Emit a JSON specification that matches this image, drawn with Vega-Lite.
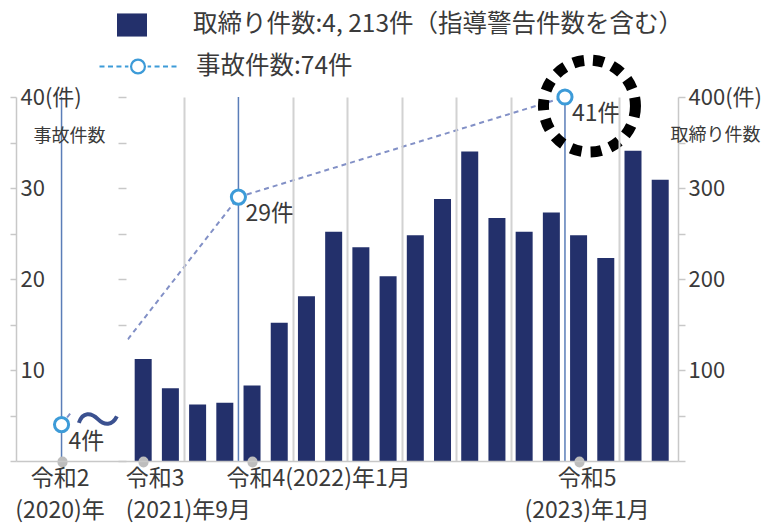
{
  "$schema": "https://vega.github.io/schema/vega-lite/v6.json",
  "width": 662,
  "height": 364,
  "autosize": {"type": "none"},
  "padding": {"left": 16, "top": 97, "right": 96, "bottom": 66},
  "config": {
    "font": "Noto Sans CJK JP",
    "view": {"stroke": null},
    "legend": {"labelFont": "Noto Sans CJK JP", "labelColor": "#3a3a3a", "padding": 0, "labelLimit": 0}
  },
  "datasets": {
    "enforcement": [
      {"month": "2021-09", "m": 0, "n": 112},
      {"month": "2021-10", "m": 1, "n": 80},
      {"month": "2021-11", "m": 2, "n": 62},
      {"month": "2021-12", "m": 3, "n": 64},
      {"month": "2022-01", "m": 4, "n": 83},
      {"month": "2022-02", "m": 5, "n": 152},
      {"month": "2022-03", "m": 6, "n": 181},
      {"month": "2022-04", "m": 7, "n": 252},
      {"month": "2022-05", "m": 8, "n": 235},
      {"month": "2022-06", "m": 9, "n": 203},
      {"month": "2022-07", "m": 10, "n": 248},
      {"month": "2022-08", "m": 11, "n": 288},
      {"month": "2022-09", "m": 12, "n": 340},
      {"month": "2022-10", "m": 13, "n": 267},
      {"month": "2022-11", "m": 14, "n": 252},
      {"month": "2022-12", "m": 15, "n": 273},
      {"month": "2023-01", "m": 16, "n": 248},
      {"month": "2023-02", "m": 17, "n": 223},
      {"month": "2023-03", "m": 18, "n": 341},
      {"month": "2023-04", "m": 19, "n": 309}
    ],
    "accidents": [
      {"period": "令和2(2020)年", "m": -3, "n": 4, "label": "4件"},
      {"period": "令和3(2021)年", "m": 3.5, "n": 29, "label": "29件"},
      {"period": "令和4(2022)年", "m": 15.5, "n": 41, "label": "41件"}
    ]
  },
  "layer": [
    {
      "data": {"name": "enforcement"},
      "mark": {"type": "bar", "width": 17},
      "encoding": {
        "x": {
          "field": "m", "type": "quantitative",
          "scale": {"domain": [-4.49, 19.47], "nice": false, "zero": false},
          "axis": {
            "title": null,
            "values": [-3, -0.5, 0, 0.5, 1.5, 2.5, 4, 4.5, 5.5, 6.5, 7.5, 8.5, 9.5, 10.5, 11.5, 12.5, 13.5, 14.5, 16, 16.5, 17.5, 18.5],
            "grid": true,
            "gridColor": {"condition": {"test": "datum.value % 1 == 0", "value": "transparent"}, "value": "#d2d2d2"},
            "gridWidth": 2,
            "domainColor": "#c8c8c8",
            "domainWidth": 1.5,
            "tickColor": {"condition": {"test": "datum.value % 1 == 0", "value": "#bdbdbd"}, "value": "transparent"},
            "tickWidth": 10,
            "tickSize": 1,
            "tickCap": "round",
            "labelExpr": "datum.value == -3 ? ['令和2', '(2020)年'] : datum.value == 0 ? ['令和3', '(2021)年9月'] : datum.value == 4 ? '令和4(2022)年1月' : datum.value == 16 ? ['令和5', '(2023)年1月'] : ''",
            "labelFontSize": 23,
            "labelColor": "#3a3a3a",
            "labelPadding": 5,
            "labelLineHeight": 32,
            "labelLimit": 0,
            "labelOverlap": false,
            "labelBound": false,
            "labelFlush": false,
            "labelAlign": {"condition": {"test": "datum.value == 0 || datum.value == 4", "value": "left"}, "value": "center"},
            "labelOffset": {"condition": [{"test": "datum.value == 0", "value": -18}, {"test": "datum.value == 4", "value": -26}, {"test": "datum.value == 16", "value": 8}], "value": -2},
            "zindex": 1
          }
        },
        "y": {
          "field": "n", "type": "quantitative",
          "scale": {"domain": [0, 400], "nice": false},
          "axis": {
            "orient": "right",
            "values": [0, 50, 100, 150, 200, 250, 300, 350, 400],
            "title": "取締り件数",
            "titleAngle": 0, "titleX": -8, "titleY": 38,
            "titleAlign": "left", "titleBaseline": "middle",
            "titleFontSize": 18, "titleFontWeight": "normal", "titleColor": "#3a3a3a",
            "labelExpr": "datum.value == 400 ? '400(件)' : (datum.value % 100 == 0 && datum.value > 0) ? datum.label : ''",
            "labelFontSize": 22, "labelColor": "#3a3a3a", "labelPadding": 3,
            "tickSize": 7, "tickColor": "#c8c8c8", "tickWidth": 1.5,
            "domainColor": "#c8c8c8", "domainWidth": 1.5,
            "grid": false, "labelOverlap": false, "labelBound": false, "labelFlush": false,
            "zindex": 1
          }
        },
        "fill": {
          "datum": "取締り件数:4, 213件（指導警告件数を含む）", "type": "nominal",
          "scale": {"range": ["#23306b"]},
          "legend": {
            "orient": "none", "legendX": 101, "legendY": -87, "title": null,
            "symbolType": "M-1,-0.77H1V0.77H-1Z", "symbolSize": 900, "symbolStrokeWidth": 0,
            "labelFontSize": 24.5, "labelOffset": 46, "labelLimit": 0
          }
        }
      }
    },
    {
      "data": {"name": "accidents"},
      "layer": [
        {
          "mark": {"type": "rule", "color": "#5a7db8", "strokeWidth": 1.5},
          "encoding": {"x": {"field": "m", "type": "quantitative"}}
        },
        {
          "mark": {"type": "line", "strokeDash": [5, 4], "strokeWidth": 2, "color": "#8290c6"},
          "encoding": {
            "x": {"field": "m", "type": "quantitative"},
            "y": {
              "field": "n", "type": "quantitative",
              "scale": {"domain": [0, 40], "nice": false, "clamp": true},
              "axis": {
                "orient": "left",
                "values": [0, 5, 10, 15, 20, 25, 30, 35, 40],
                "title": "事故件数",
                "titleAngle": 0, "titleX": 17, "titleY": 39,
                "titleAlign": "left", "titleBaseline": "middle",
                "titleFontSize": 18, "titleFontWeight": "normal", "titleColor": "#3a3a3a",
                "labelExpr": "datum.value == 40 ? '40(件)' : (datum.value % 10 == 0 && datum.value > 0) ? datum.label : ''",
                "labelAlign": "left", "labelPadding": -10,
                "labelFontSize": 22, "labelColor": "#3a3a3a",
                "tickSize": 6, "tickColor": "#c8c8c8", "tickWidth": 1.5,
                "domainColor": "#c8c8c8", "domainWidth": 1.5,
                "grid": false, "labelOverlap": false, "labelBound": false, "labelFlush": false,
                "zindex": 1
              }
            }
          }
        },
        {
          "mark": {"type": "point", "filled": true, "fill": "white", "strokeWidth": 3, "size": 200, "opacity": 1},
          "encoding": {
            "x": {"field": "m", "type": "quantitative"},
            "y": {"field": "n", "type": "quantitative"},
            "stroke": {
              "datum": "事故件数:74件", "type": "nominal",
              "scale": {"range": ["#3d9bd8"]},
              "legend": {
                "orient": "none", "legendX": 82, "legendY": -70.5, "title": null,
                "symbolType": "M-1,0H-0.87M-0.78,0H-0.65M-0.56,0H-0.43M-0.34,0H-0.25M0.18,0A0.18,0.18 0 1,1 -0.18,0A0.18,0.18 0 1,1 0.18,0M0.25,0H0.34M0.43,0H0.56M0.65,0H0.78M0.87,0H1",
                "symbolSize": 5929, "symbolStrokeWidth": 2.2,
                "symbolFillColor": "transparent",
                "labelFontSize": 24.5, "labelOffset": 18
              }
            }
          }
        },
        {
          "mark": {"type": "text", "align": "left", "baseline": "middle", "dx": 7, "dy": 17, "fontSize": 23, "color": "#3a3a3a"},
          "encoding": {
            "x": {"field": "m", "type": "quantitative"},
            "y": {"field": "n", "type": "quantitative"},
            "text": {"field": "label"}
          }
        },
        {
          "data": {"values": [{}]},
          "mark": {"type": "point", "shape": "circle", "filled": false, "stroke": "black", "strokeWidth": 11, "strokeDash": [11, 9], "size": 8464, "opacity": 1},
          "encoding": {
            "x": {"datum": 16.4, "type": "quantitative"},
            "y": {"datum": 39.0, "type": "quantitative"}
          }
        }
      ]
    },
    {
      "data": {"values": [{}]},
      "layer": [
        {
          "mark": {"type": "rect", "color": "white"},
          "encoding": {
            "x": {"datum": -2.65, "type": "quantitative"},
            "x2": {"datum": -0.58},
            "y": {
              "datum": 4.5, "type": "quantitative",
              "scale": {"domain": [0, 40], "nice": false},
              "axis": {
                "orient": "left", "offset": -110,
                "values": [0, 5, 10, 15, 20, 25, 30, 35, 40],
                "labels": false, "domain": false, "grid": false, "title": null,
                "tickSize": 8, "tickColor": "#c8c8c8", "tickWidth": 1.5
              }
            },
            "y2": {"datum": 14}
          }
        },
        {
          "mark": {"type": "point", "shape": "M-1,0.2C-0.8,-0.4 -0.35,-0.35 0,0C0.35,0.35 0.75,0.35 1,-0.15", "filled": false, "stroke": "#3b5190", "strokeWidth": 4, "size": 1444, "opacity": 1},
          "encoding": {
            "x": {"datum": -1.665, "type": "quantitative"},
            "y": {"datum": 4.6, "type": "quantitative"}
          }
        }
      ]
    }
  ],
  "resolve": {"scale": {"y": "independent"}}
}
